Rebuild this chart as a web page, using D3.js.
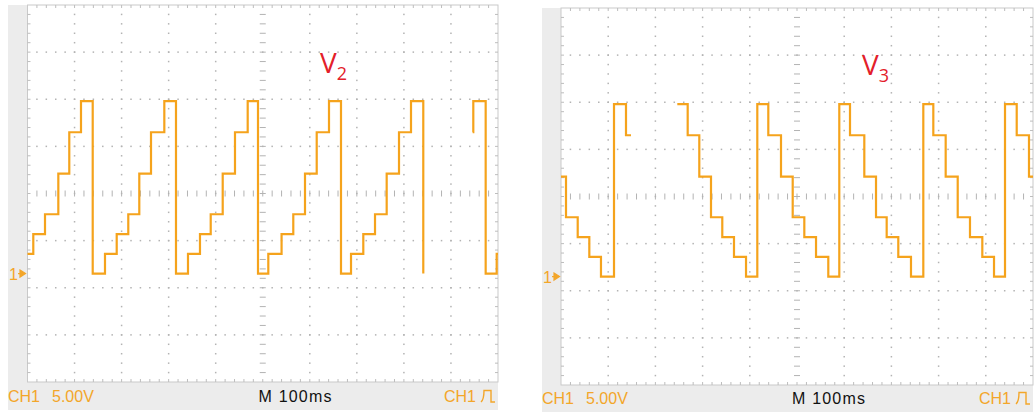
<!DOCTYPE html>
<html>
<head>
<meta charset="utf-8">
<script src="https://cdn.jsdelivr.net/npm/d3@7"></script>
<style>
  html, body { margin: 0; padding: 0; background: #fff; }
  svg { display: block; }
</style>
</head>
<body>
<svg id="chart" width="1036" height="412"></svg>
<script>
// CH1 captures of two staircase outputs, 5 V/div and 100 ms/div.
// Times are in ms from the left edge of the screen, levels in volts.
// Each level holds until the next time; NaN marks a break in the trace.
const v2Times = [0, 12.3, 37.2, 65.5, 88.8, 113.7,
  138.6, 164.7, 189.6, 214.2, 237.6, 262.5, 290.8,
  315.6, 341.1, 366.6, 389.4, 414.9, 441.0, 468.0,
  489.9, 511.8, 540.0, 564.9, 589.8, 614.7, 640.8,
  666.3, 687.6, 713.7, 738.6, 763.4, 789.6, 815.1,
  841.2, 841.3,
  946.2, 947.5, 973.8, 997.2, 1000];
const v2Volts = [2.1, 4.2, 6.3, 10.6, 15.0, 18.3,
  0, 2.1, 4.2, 6.3, 10.6, 15.0, 18.3,
  0, 2.1, 4.2, 6.3, 10.6, 15.0, 18.3,
  0, 2.1, 4.2, 6.3, 10.6, 15.0, 18.3,
  0, 2.1, 4.2, 6.3, 10.6, 15.0, 18.3,
  0, NaN,
  15.0, 18.3, 0, 2.1, 2.1];

const v3Times = [0, 10.6, 35.4, 60.0, 84.7, 112.3, 137.7, 148.3, 148.4,
  246.4, 268.4, 293.0, 317.8, 341.7, 366.5, 392.0,
  415.9, 439.2, 466.1, 490.9, 515.5, 540.3, 566.3,
  589.6, 612.3, 642.6, 667.4, 690.0, 714.6, 741.5,
  767.6, 788.8, 815.0, 840.5, 866.5, 892.6, 917.4,
  940.7, 965.5, 991.5, 1000];
const v3Volts = [10.6, 6.3, 4.2, 2.1, 0, 18.3, 15.0, 15.0, NaN,
  18.3, 15.0, 10.6, 6.3, 4.2, 2.1, 0,
  18.3, 15.0, 10.6, 6.3, 4.2, 2.1, 0,
  18.3, 15.0, 10.6, 6.3, 4.2, 2.1, 0,
  18.3, 15.0, 10.6, 6.3, 4.2, 2.1, 0,
  18.3, 15.0, 10.6, 10.6];

// Readout texts
const channelLabel = "CH1";
const voltsPerDiv = "5.00V";
const timebaseLabel = "M 100ms";
const groundLabel = "1";

// Screen: 10 x 8 divisions; ground sits 1.7 div below centre
const timeSpan = [0, 1000];
const voltSpan = [-11.5, 28.5];
const msPerDiv = 100, vPerDiv = 5;

const TRACE = "#f5a31c";
const READOUT = "#f3a62a";
const GRID = "#b3b3b3";
const PANEL_BG = "#ececec";

const svg = d3.select("#chart");
svg.append("rect").attr("width", 1036).attr("height", 412).attr("fill", "#fff");

const panels = [
  { name: "V", sub: "2", times: v2Times, volts: v2Volts,
    x0: 27.5, x1: 498, y0: 5, y1: 382, left: 8, bottom: 410, labelX: 320, labelY: 73 },
  { name: "V", sub: "3", times: v3Times, volts: v3Volts,
    x0: 561, x1: 1033, y0: 8, y1: 385, left: 542, bottom: 412, labelX: 862, labelY: 75 }
];

panels.forEach(p => {
  const g = svg.append("g");
  const x = d3.scaleLinear().domain(timeSpan).range([p.x0, p.x1]);
  const y = d3.scaleLinear().domain(voltSpan).range([p.y1, p.y0]);

  // readout frame
  g.append("rect").attr("x", p.left).attr("y", p.y0)
    .attr("width", p.x0 - p.left).attr("height", p.bottom - p.y0).attr("fill", PANEL_BG);
  g.append("rect").attr("x", p.left).attr("y", p.y1)
    .attr("width", p.x1 - p.left).attr("height", p.bottom - p.y1).attr("fill", PANEL_BG);
  g.append("rect").attr("x", p.x0).attr("y", p.y0)
    .attr("width", p.x1 - p.x0).attr("height", p.y1 - p.y0)
    .attr("fill", "#fff").attr("stroke", "#c9c9c9").attr("stroke-width", 1);

  const majorT = d3.range(timeSpan[0], timeSpan[1] + 1, msPerDiv);
  const minorT = d3.range(timeSpan[0], timeSpan[1] + 0.1, msPerDiv / 5);
  const majorV = d3.range(0, 9).map(k => voltSpan[0] + k * vPerDiv);
  const minorV = d3.range(0, 41).map(k => voltSpan[0] + k * vPerDiv / 5);
  const centreT = 500, centreV = voltSpan[0] + 4 * vPerDiv;

  const grid = g.append("g").attr("fill", GRID).attr("stroke", GRID);

  // dotted graticule
  majorV.slice(1, -1).filter(v => v !== centreV).forEach(v => {
    grid.selectAll(null).data(minorT.slice(1, -1)).join("rect")
      .attr("x", t => x(t) - 0.75).attr("y", y(v) - 0.75)
      .attr("width", 1.5).attr("height", 1.5).attr("stroke", "none");
  });
  majorT.slice(1, -1).filter(t => t !== centreT).forEach(t => {
    grid.selectAll(null).data(minorV.slice(1, -1)).join("rect")
      .attr("x", x(t) - 0.75).attr("y", v => y(v) - 0.75)
      .attr("width", 1.5).attr("height", 1.5).attr("stroke", "none");
  });

  // centre axes with minor ticks
  grid.selectAll(null).data(minorT.slice(1, -1)).join("line")
    .attr("x1", t => x(t)).attr("x2", t => x(t))
    .attr("y1", y(centreV) - 3).attr("y2", y(centreV) + 3).attr("stroke-width", 1);
  grid.selectAll(null).data(minorV.slice(1, -1)).join("line")
    .attr("x1", x(centreT) - 3).attr("x2", x(centreT) + 3)
    .attr("y1", v => y(v)).attr("y2", v => y(v)).attr("stroke-width", 1);

  // edge ticks
  const edge = g.append("g").attr("stroke", "#bdbdbd").attr("stroke-width", 1);
  edge.selectAll(null).data(minorT.slice(1, -1)).join("line")
    .attr("x1", t => x(t)).attr("x2", t => x(t)).attr("y1", p.y0).attr("y2", p.y0 + 3);
  edge.selectAll(null).data(minorT.slice(1, -1)).join("line")
    .attr("x1", t => x(t)).attr("x2", t => x(t)).attr("y1", p.y1).attr("y2", p.y1 - 3);
  edge.selectAll(null).data(minorV.slice(1, -1)).join("line")
    .attr("x1", p.x0).attr("x2", p.x0 + 3).attr("y1", v => y(v)).attr("y2", v => y(v));
  edge.selectAll(null).data(minorV.slice(1, -1)).join("line")
    .attr("x1", p.x1).attr("x2", p.x1 - 3).attr("y1", v => y(v)).attr("y2", v => y(v));

  // trace
  const pts = p.times.map((t, i) => [t, p.volts[i]]);
  const line = d3.line()
    .defined(d => !isNaN(d[1]))
    .x(d => x(d[0])).y(d => y(d[1]))
    .curve(d3.curveStepAfter);
  g.append("path").datum(pts)
    .attr("d", line)
    .attr("fill", "none").attr("stroke", TRACE)
    .attr("stroke-width", 2.2).attr("stroke-linejoin", "miter");

  // ground marker
  const gy = y(0);
  g.append("text").attr("x", p.left + 1).attr("y", gy + 6)
    .attr("font-family", "Liberation Sans, Arial, sans-serif").attr("font-size", 16)
    .attr("fill", READOUT).text(groundLabel);
  g.append("path")
    .attr("d", `M${p.left + 10},${gy} L${p.left + 13},${gy} M${p.left + 12},${gy - 3.5} L${p.left + 17.5},${gy} L${p.left + 12},${gy + 3.5} Z`)
    .attr("fill", READOUT).attr("stroke", READOUT).attr("stroke-width", 1.2);

  // readouts
  const ty = p.bottom - 8;
  const font = "Liberation Sans, Arial, sans-serif";
  g.append("text").attr("x", p.left).attr("y", ty).attr("font-family", font)
    .attr("font-size", 16).attr("fill", READOUT).text(channelLabel);
  g.append("text").attr("x", p.left + 44).attr("y", ty).attr("font-family", font)
    .attr("font-size", 16).attr("fill", READOUT).text(voltsPerDiv);
  g.append("text").attr("x", p.x0 + 231).attr("y", ty).attr("font-family", font)
    .attr("font-size", 16).attr("letter-spacing", 1.2).attr("fill", "#111").text(timebaseLabel);
  g.append("text").attr("x", p.x1 - 54).attr("y", ty).attr("font-family", font)
    .attr("font-size", 16).attr("fill", READOUT).text(channelLabel);
  const ix = p.x1 - 17, iy = ty - 11.5;
  g.append("path")
    .attr("d", `M${ix},${iy + 11.5} Q${ix + 3},${iy + 9} ${ix + 3},${iy} L${ix + 10},${iy} L${ix + 10},${iy + 11.5} L${ix + 14},${iy + 11.5}`)
    .attr("fill", "none").attr("stroke", READOUT).attr("stroke-width", 1.4);

  // signal name
  const lbl = g.append("text").attr("x", p.labelX).attr("y", p.labelY)
    .attr("font-family", "Open Sans, Liberation Sans, sans-serif")
    .attr("font-size", 28).attr("fill", "#e3202a");
  lbl.append("tspan").text(p.name);
  lbl.append("tspan").attr("font-size", 18).attr("dy", 7).text(p.sub);
});
</script>
</body>
</html>
